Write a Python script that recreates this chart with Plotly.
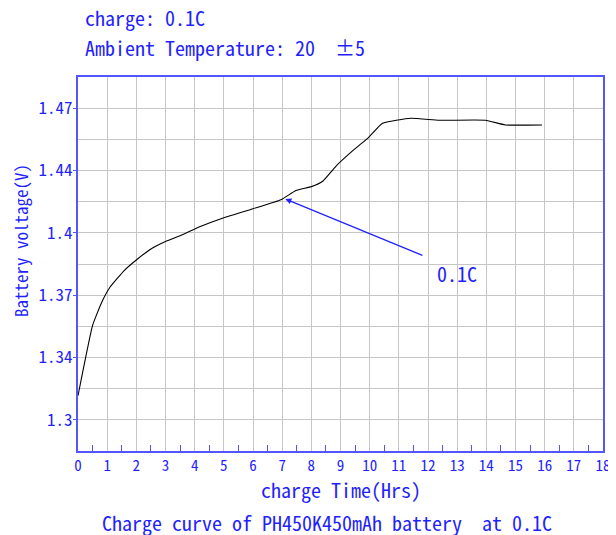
import plotly.graph_objects as go

# Data
time_hrs = [0, 0.5, 0.8, 1.1, 1.6, 2.0, 2.5, 3.0, 3.5, 4.17, 5.0, 6.0, 6.96, 7.47, 8.0,
            8.39, 8.84, 9.47, 9.97, 10.44, 11.41, 12.38, 13.97, 14.65, 15.91]
voltage = [1.3129, 1.3505, 1.3624, 1.3710, 1.3801, 1.3855, 1.3914, 1.3954, 1.3984, 1.4032,
           1.4081, 1.4129, 1.4177, 1.4226, 1.4247, 1.4276, 1.4356, 1.4446, 1.4511, 1.4586,
           1.4613, 1.4602, 1.4602, 1.4577, 1.4577]

y_tick_vals = [1.3, 1.3 + 1/30, 1.3 + 2/30, 1.4, 1.4 + 1/30, 1.4 + 2/30]
y_tick_text = ["1.3", "1.34", "1.37", "1.4", "1.44", "1.47"]
y_minor_vals = [1.3 - 1/60 + k/30 for k in range(7)]
x_tick_vals = list(range(0, 19))

arrow_head = (7.11, 1.4181)
arrow_tail = (11.86, 1.3876)
label_pos = (12.99, 1.3785)

FONT = "Noto Sans Mono CJK SC, DejaVu Sans Mono, monospace"
BLUE = "#1f1fff"
AXIS = "#5555ff"
GRID = "#c6c6c6"

fig = go.Figure()
fig.add_trace(go.Scatter(x=time_hrs, y=voltage, mode="lines",
                         line=dict(color="black", width=1.1, shape="spline", smoothing=0.4),
                         showlegend=False, hoverinfo="skip"))

# page body has an 8px default margin, so the figure is 8px smaller and margins shifted
fig.update_layout(
    width=608, height=527,
    margin=dict(l=70, r=13, t=69, b=84),
    paper_bgcolor="white", plot_bgcolor="white",
    font=dict(family=FONT, color=BLUE),
    xaxis=dict(range=[0, 18], tickvals=x_tick_vals, showgrid=True, gridcolor=GRID, gridwidth=1,
               showline=True, linecolor=AXIS, linewidth=2, mirror=True, zeroline=False,
               automargin=False, ticks="", tickfont=dict(size=15, color=BLUE, family=FONT),
               minor=dict(tick0=0.5, dtick=1, ticks="inside", ticklen=6, tickcolor=AXIS,
                          tickwidth=1, showgrid=False)),
    yaxis=dict(range=[1.3 - 1/60, 1.4 + 2/30 + 1/60], tickmode="array",
               tickvals=y_tick_vals, ticktext=y_tick_text,
               showgrid=True, gridcolor=GRID, gridwidth=1,
               showline=True, linecolor=AXIS, linewidth=2, mirror=True, zeroline=False,
               automargin=False, ticks="outside", ticklen=3, tickcolor=AXIS,
               ticklabelstandoff=-3,
               tickfont=dict(size=17, color=BLUE, family=FONT),
               minor=dict(tickvals=y_minor_vals, showgrid=True, gridcolor=GRID, gridwidth=1,
                          ticks="")),
)

anns = [
    dict(x=arrow_head[0], y=arrow_head[1], ax=arrow_tail[0], ay=arrow_tail[1],
         xref="x", yref="y", axref="x", ayref="y", text="", showarrow=True,
         arrowhead=2, arrowsize=1, arrowwidth=1.2, arrowcolor=BLUE),
    dict(x=label_pos[0], y=label_pos[1], xref="x", yref="y", text="0.1C", showarrow=False,
         xanchor="center", yanchor="middle",
         font=dict(size=20, color=BLUE, family=FONT)),
    dict(x=-0.1105, y=0.564, xref="paper", yref="paper", text="Battery voltage(V)",
         xanchor="center", yanchor="middle",
         textangle=-90, showarrow=False, font=dict(size=17, color=BLUE, family=FONT)),
    dict(x=0.501, y=-0.104, xref="paper", yref="paper", text="charge Time(Hrs)",
         xanchor="center", yanchor="middle",
         showarrow=False, font=dict(size=20, color=BLUE, family=FONT)),
    dict(x=0.474, y=-0.19, xref="paper", yref="paper",
         text="Charge curve of PH450K450mAh battery  at 0.1C",
         xanchor="center", yanchor="middle",
         showarrow=False, font=dict(size=20, color=BLUE, family=FONT)),
    dict(x=0.0095, y=1.160, xref="paper", yref="paper", xanchor="left", yanchor="middle",
         text="charge: 0.1C", showarrow=False, font=dict(size=20, color=BLUE, family=FONT)),
    dict(x=0.0095, y=1.080, xref="paper", yref="paper", xanchor="left", yanchor="middle",
         text="Ambient Temperature: 20  ±5", showarrow=False,
         font=dict(size=20, color=BLUE, family=FONT)),
]
fig.update_layout(annotations=anns)

fig.write_html("out.html")
